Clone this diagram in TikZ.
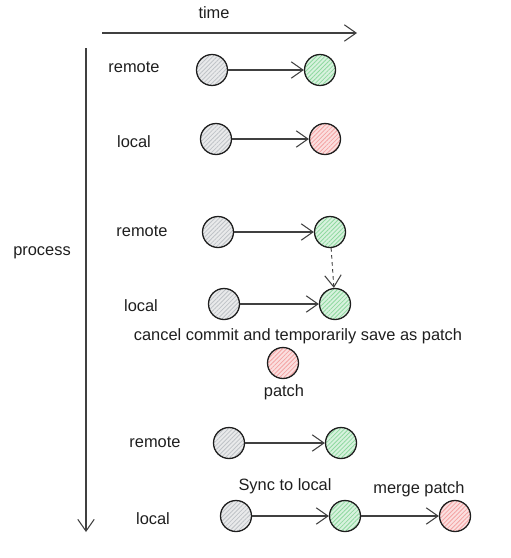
\documentclass[tikz,border=0pt]{standalone}
\usepackage{fontspec}
\setmainfont{Liberation Sans}
\usepackage{xcolor}
\usetikzlibrary{arrows.meta, patterns.meta}

\definecolor{inkdark}{HTML}{1E1E1E}
\definecolor{grayfill}{HTML}{BFC3C7}
\definecolor{greenfill}{HTML}{8FD9A0}
\definecolor{redfill}{HTML}{F4A3A3}

\begin{document}
\begin{tikzpicture}[
                x = 0.03cm, y = -0.03cm,
                commit/.style = {
                    circle,
                    minimum size    = 0.93cm,
                    inner sep       = 0pt,
                    draw            = inkdark,
                    line width      = 1.1pt
                },
                oldcommit/.style = {
                    commit,
                    preaction = {fill = grayfill!35},
                    pattern = {Lines[angle=45, distance=2.6pt, line width=0.7pt]},
                    pattern color = grayfill
                },
                newcommit/.style = {
                    commit,
                    preaction = {fill = greenfill!35},
                    pattern = {Lines[angle=45, distance=2.6pt, line width=0.7pt]},
                    pattern color = greenfill
                },
                patchcommit/.style = {
                    commit,
                    preaction = {fill = redfill!35},
                    pattern = {Lines[angle=45, distance=2.6pt, line width=0.7pt]},
                    pattern color = redfill
                },
                tag/.style = {
                    font = \fontsize{14}{16}\selectfont,
                    text = inkdark
                },
                bigarrow/.style = {
                    -{Straight Barb[length=10pt, width=14pt, line width=0.9pt]},
                    draw = inkdark!85,
                    line width = 0.9pt
                }
            ]
                \useasboundingbox (0, 0) rectangle (511, 558);

                % axes
                \coordinate (t0) at (102, 33);
                \coordinate (t1) at (357, 33);
                \coordinate (p0) at (86, 48);
                \coordinate (p1) at (86, 532);
                \draw[bigarrow] (t0) -- (t1);
                \draw[bigarrow] (p0) -- (p1);
                \node[tag] (time) at (214, 13) {time};
                \node[tag] (process) at (42, 253) {process};

                % row 1 and 2
                \node[tag] (remoteA) at (134, 67) {remote};
                \node[oldcommit] (ra1) at (212, 70) {};
                \node[newcommit] (ra2) at (320, 70) {};
                \node[tag] (localA) at (134, 142) {local};
                \node[oldcommit] (la1) at (216, 139) {};
                \node[patchcommit] (la2) at (325, 139) {};
                \draw[bigarrow] (ra1) -- (ra2);
                \draw[bigarrow] (la1) -- (la2);

                % row 3 and 4
                \node[tag] (remoteB) at (142, 231) {remote};
                \node[oldcommit] (rb1) at (218, 232) {};
                \node[newcommit] (rb2) at (330, 232) {};
                \node[tag] (localB) at (141, 306) {local};
                \node[oldcommit] (lb1) at (224, 304) {};
                \node[newcommit] (lb2) at (335, 304) {};
                \draw[bigarrow] (rb1) -- (rb2);
                \draw[bigarrow] (lb1) -- (lb2);
                \draw[bigarrow, dashed, line width=0.8pt] (rb2) -- (lb2);
                \node[tag] (cancel) at (298, 336) {cancel commit and temporarily save as patch};
                \node[patchcommit] (patch) at (283, 363) {};
                \node[tag] (patchlbl) at (284, 392) {patch};

                % row 5 and 6
                \node[tag] (remoteC) at (155, 442) {remote};
                \node[oldcommit] (rc1) at (229, 443) {};
                \node[newcommit] (rc2) at (341, 443) {};
                \node[tag] (localC) at (153, 519) {local};
                \node[oldcommit] (lc1) at (236, 516) {};
                \node[newcommit] (lc2) at (345, 516) {};
                \node[patchcommit] (lc3) at (455, 516) {};
                \draw[bigarrow] (rc1) -- (rc2);
                \draw[bigarrow] (lc1) -- (lc2);
                \draw[bigarrow] (lc2) -- (lc3);
                \node[tag] (sync) at (285, 486) {Sync to local};
                \node[tag] (merge) at (419, 489) {merge patch};
            \end{tikzpicture}
\end{document}
